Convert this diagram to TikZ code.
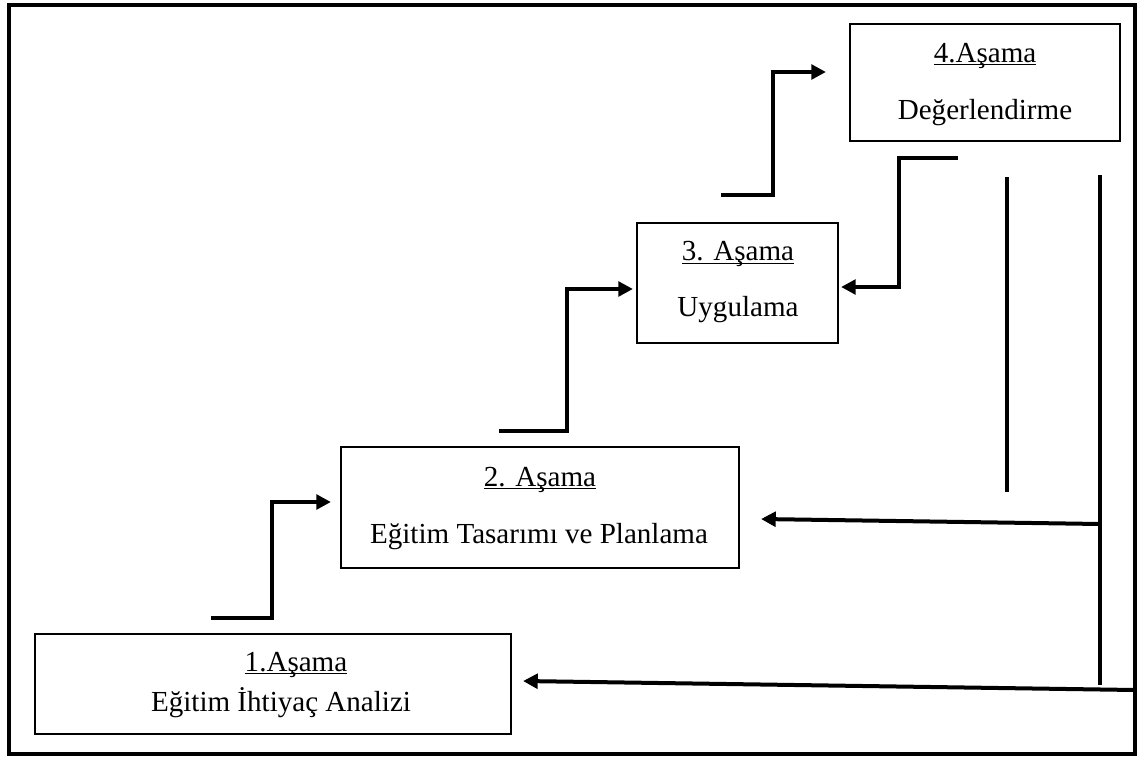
\documentclass[tikz,border=0pt]{standalone}
\usepackage{fontspec}
\setmainfont{Liberation Serif}
\usetikzlibrary{arrows.meta,calc}
\newcommand{\stul}[1]{\setbox0=\hbox{#1}\leavevmode\rlap{\rule[-2.5pt]{\wd0}{1pt}}\box0}
\begin{document}
\begin{tikzpicture}[x=0.75pt,y=-0.75pt,
  stage/.style={draw=black,line width=1.6pt,rectangle,inner sep=0pt,fill=white},
  lbl/.style={anchor=base,inner sep=0pt,font=\fontsize{21.8pt}{25pt}\selectfont},
  conn/.style={line width=3pt,line join=miter,-{Triangle[length=11pt,width=11pt]}},
  bar/.style={line width=3pt},
  frame/.style={line width=2.6pt}]
\useasboundingbox (0,0) rectangle (1138,757);
\draw[frame] (9,5) rectangle (1135,754);
% stages
\node[stage,minimum width=476*0.75pt,minimum height=100*0.75pt] (b1) at (273,684) {};
\node[stage,minimum width=398*0.75pt,minimum height=121*0.75pt] (b2) at (540,507.5) {};
\node[stage,minimum width=201*0.75pt,minimum height=120*0.75pt] (b3) at (737.5,283) {};
\node[stage,minimum width=270*0.75pt,minimum height=117*0.75pt] (b4) at (985,82.5) {};
% labels
\node[lbl] (t1a) at (296,671) {\stul{1.Aşama}};
\node[lbl] (t1b) at (281,711) {Eğitim İhtiyaç Analizi};
\node[lbl] (t2a) at (540,486) {\stul{2. Aşama}};
\node[lbl] (t2b) at (539,543.5) {Eğitim Tasarımı ve Planlama};
\node[lbl] (t3a) at (738,260.5) {\stul{3. Aşama}};
\node[lbl] (t3b) at (738,316.5) {Uygulama};
\node[lbl] (t4a) at (985,62) {\stul{4.Aşama}};
\node[lbl] (t4b) at (985,119) {Değerlendirme};
% free ends and corners
\coordinate (s1) at (211,618);
\coordinate (k1) at (272,618);
\coordinate (s2) at (499,431);
\coordinate (k2) at (567,431);
\coordinate (s3) at (721,195);
\coordinate (k3) at (773,195);
\coordinate (s4) at (958,158);
\coordinate (k4) at (899,158);
\coordinate (v1t) at (1007,177);
\coordinate (v1b) at (1007,492);
\coordinate (v2t) at (1100,175);
\coordinate (v2b) at (1100,685);
\coordinate (j2) at (1100,524);
\coordinate (j1) at (1135,690);
% connectors
\draw[conn] (s1) -- (k1) -- (272,502) -- ($(b2.west)+(-9,-5.5)$);
\draw[conn] (s2) -- (k2) -- (567,289) -- ($(b3.west)+(-3,6)$);
\draw[conn] (s3) -- (k3) -- (773,72) -- ($(b4.west)+(-23,-10.5)$);
\draw[conn] (s4) -- (k4) -- (899,287) -- ($(b3.east)+(2,4)$);
\draw[bar] (v1t) -- (v1b);
\draw[bar] (v2t) -- (v2b);
\draw[conn] (j2) -- ($(b2.east)+(21,11.5)$);
\draw[conn] (j1) -- ($(b1.east)+(11,-3)$);
\end{tikzpicture}
\end{document}
